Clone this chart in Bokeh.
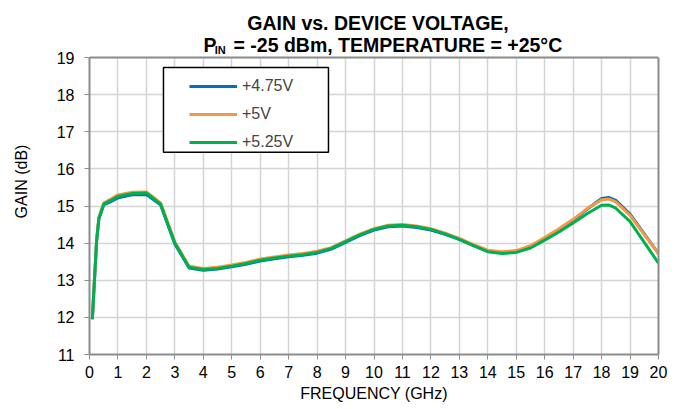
from bokeh.plotting import figure
from bokeh.models import (Legend, LegendItem, Range1d, FixedTicker, BoxAnnotation,
                          LinearAxis, Span)
from bokeh.core.properties import value
from bokeh.embed import file_html
from bokeh.resources import INLINE

freq = [0.1, 0.25, 0.33, 0.5, 0.75, 1.0, 1.5, 2.0, 2.5, 3.0, 3.5, 4.0, 4.5, 5.0, 5.5,
        6.0, 6.5, 7.0, 7.5, 8.0, 8.5, 9.0, 9.5, 10.0, 10.5, 11.0, 11.5, 12.0, 12.5,
        13.0, 13.5, 14.0, 14.5, 15.0, 15.5, 16.0, 16.5, 17.0, 17.5, 18.0, 18.25,
        18.5, 19.0, 19.5, 20.0]
gain_475 = [11.95, 14.05, 14.65, 15.03, 15.12, 15.22, 15.30, 15.31, 15.03, 13.98,
            13.33, 13.27, 13.30, 13.36, 13.43, 13.52, 13.58, 13.63, 13.67, 13.73,
            13.84, 14.02, 14.20, 14.35, 14.44, 14.46, 14.42, 14.35, 14.24, 14.10,
            13.93, 13.78, 13.74, 13.77, 13.90, 14.12, 14.36, 14.62, 14.92, 15.20,
            15.23, 15.15, 14.78, 14.25, 13.72]
gain_500 = [11.98, 14.10, 14.70, 15.08, 15.19, 15.30, 15.37, 15.38, 15.08, 14.03,
            13.38, 13.32, 13.35, 13.41, 13.48, 13.57, 13.63, 13.68, 13.72, 13.78,
            13.88, 14.06, 14.24, 14.39, 14.48, 14.50, 14.46, 14.39, 14.27, 14.13,
            13.96, 13.81, 13.77, 13.80, 13.93, 14.15, 14.39, 14.64, 14.93, 15.17,
            15.19, 15.11, 14.75, 14.23, 13.72]
gain_525 = [11.95, 14.07, 14.67, 15.05, 15.15, 15.26, 15.34, 15.35, 15.05, 14.00,
            13.35, 13.29, 13.32, 13.38, 13.45, 13.54, 13.60, 13.65, 13.69, 13.75,
            13.86, 14.04, 14.22, 14.37, 14.46, 14.48, 14.44, 14.37, 14.25, 14.10,
            13.93, 13.77, 13.72, 13.75, 13.87, 14.08, 14.30, 14.54, 14.80, 15.02,
            15.03, 14.94, 14.58, 14.02, 13.46]

series = [("+4.75V", gain_475, "#0070C0"),
          ("+5V", gain_500, "#F79646"),
          ("+5.25V", gain_525, "#00B050")]

x_ticks = list(range(0, 21))
y_ticks = list(range(11, 20))
Y_MIN, Y_MAX = 11, 19

title_line1 = "GAIN vs. DEVICE VOLTAGE,"
title_p = "P"
title_sub = "IN"
title_rest = "= -25 dBm, TEMPERATURE = +25°C"

FONT = "Liberation Sans"
GRAY = "#8c8c8c"

# frame extends upward past 19 to hold the two-line title
p = figure(width=681, height=409, output_backend="svg", toolbar_location=None,
           title=None, x_range=Range1d(0, 20), y_range=Range1d(Y_MIN, 20.32),
           min_border_left=89, min_border_right=23, min_border_top=8,
           min_border_bottom=55)
p.outline_line_color = None

for ax in (p.xaxis[0], p.yaxis[0]):
    ax.axis_line_color = GRAY
    ax.axis_line_width = 2
    ax.major_tick_line_color = GRAY
    ax.major_tick_line_width = 1
    ax.major_tick_out = 5
    ax.major_tick_in = 0
    ax.minor_tick_line_color = None
    ax.major_label_text_font = FONT
    ax.major_label_text_font_size = "16px"
    ax.major_label_text_color = "black"
    ax.axis_label_text_font = FONT
    ax.axis_label_text_font_size = "16px"
    ax.axis_label_text_font_style = "normal"
    ax.axis_label_text_color = "black"

p.xaxis.ticker = FixedTicker(ticks=x_ticks)
p.yaxis.ticker = FixedTicker(ticks=y_ticks)
p.yaxis.bounds = (Y_MIN, Y_MAX)
p.xaxis.axis_label = "FREQUENCY (GHz)"
p.yaxis.axis_label = "GAIN (dB)"
p.xaxis.major_label_standoff = 6
p.xaxis.axis_label_standoff = 4
p.yaxis.major_label_standoff = 10
p.yaxis.axis_label_standoff = 24

# right border of the plot box
right_ax = LinearAxis(ticker=FixedTicker(ticks=[]), bounds=(Y_MIN, Y_MAX),
                      axis_line_color=GRAY, axis_line_width=2,
                      major_tick_line_color=None, minor_tick_line_color=None,
                      major_label_text_color=None)
p.add_layout(right_ax, "right")

p.xgrid.ticker = FixedTicker(ticks=x_ticks)
p.ygrid.ticker = FixedTicker(ticks=y_ticks)
p.xgrid.grid_line_color = "#d4d4d4"
p.ygrid.grid_line_color = "#d4d4d4"
p.xgrid.grid_line_width = 1.5
p.ygrid.grid_line_width = 1.5

# white cover over grid above the plot box, then top border line
p.add_layout(BoxAnnotation(bottom=Y_MAX, fill_color="white", fill_alpha=1,
                           line_color=None, level="underlay"))
p.add_layout(Span(location=Y_MAX, dimension="width", line_color=GRAY,
                  line_width=2))

# legend frame box
p.add_layout(BoxAnnotation(left=2.60, right=8.40, top=18.73, bottom=16.45,
                           fill_color="white", fill_alpha=1,
                           line_color="black", line_width=1.5, line_alpha=1))

items = []
for name, g, c in series:
    r = p.line(freq, g, line_color=c, line_width=3)
    items.append(LegendItem(label=name, renderers=[r]))

legend = Legend(items=items, location=(100, 202), orientation="vertical",
                border_line_color=None, background_fill_alpha=0,
                label_text_font=FONT, label_text_font_size="16px",
                glyph_width=48, glyph_height=20, spacing=8,
                padding=4, margin=0, label_standoff=5, label_width=60)
p.add_layout(legend, "center")

# title text
tk = dict(text_font=value(FONT), text_font_style="bold", text_color="black",
          text_baseline="alphabetic")
p.text(x=[10.14], y=[19.916], text=[title_line1], text_align="center",
       text_font_size="19.5px", **tk)
p.text(x=[4.007], y=[19.350], text=[title_p], text_align="left",
       text_font_size="19.5px", **tk)
p.text(x=[4.40], y=[19.215], text=[title_sub], text_align="left",
       text_font_size="11px", **tk)
p.text(x=[5.061], y=[19.350], text=[title_rest], text_align="left",
       text_font_size="19.5px", **tk)

open("out.html", "w").write(file_html(p, INLINE))
